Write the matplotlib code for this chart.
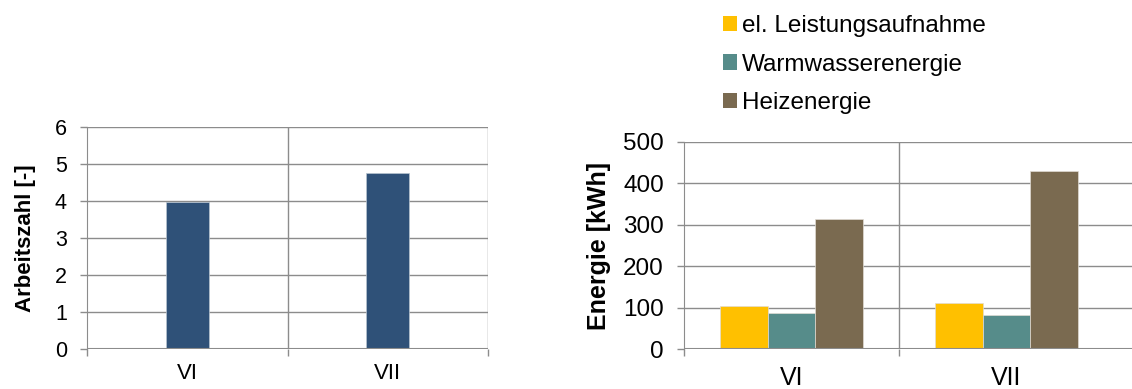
import numpy as np
import matplotlib
matplotlib.use('Agg')
import matplotlib.pyplot as plt
from matplotlib.patches import Patch

plt.rcParams['font.family'] = ['Liberation Sans', 'DejaVu Sans']

# data
categories = ['VI', 'VII']
arbeitszahl = [3.97, 4.77]
series_names = ['el. Leistungsaufnahme', 'Warmwasserenergie', 'Heizenergie']
el_leistung = [105, 112]
warmwasser = [88, 81]
heizenergie = [315, 430]
series_values = [el_leistung, warmwasser, heizenergie]
colors = ['#FFC000', '#568C8A', '#7A6A50']

grid_col = '#8C8C8C'

fig = plt.figure(figsize=(11.32, 3.89), dpi=100)

def style_axes(ax, ymax, ystep, xmax, bounds, fs_tick, fs_cat, fs_lab, ylabel, catpad):
    ax.set_ylim(0, ymax)
    ax.set_xlim(-0.5, xmax)
    ax.set_yticks(np.arange(0, ymax + ystep / 2, ystep))
    ax.yaxis.grid(True, color=grid_col, linewidth=1)
    ax.set_axisbelow(True)
    for s in ['top', 'right', 'bottom']:
        ax.spines[s].set_visible(False)
    ax.spines['left'].set_color(grid_col)
    # category boundaries as major ticks, labels as minor ticks
    ax.set_xticks(bounds)
    ax.set_xticklabels([])
    ax.set_xticks(np.arange(len(categories)), minor=True)
    ax.set_xticklabels(categories, minor=True, fontsize=fs_cat)
    ax.tick_params(axis='x', which='minor', length=0, pad=catpad)
    ax.tick_params(axis='x', which='major', length=5, color=grid_col, width=1)
    ax.tick_params(axis='y', length=5, color=grid_col, width=1, labelsize=fs_tick, pad=9.5)
    for b in bounds[1:]:
        ax.axvline(b, color=grid_col, linewidth=1, zorder=0)
    ax.axhline(0, color=grid_col, linewidth=1.5, zorder=3)
    ax.set_ylabel(ylabel, fontsize=fs_lab, fontweight='bold')

x = np.arange(len(categories))

# left chart
ax1 = fig.add_axes([87 / 1132, 40 / 389, 401 / 1132, 222 / 389])
ax1.bar(x, arbeitszahl, width=0.215, color='#2F5178', edgecolor='#B8C4D0', linewidth=0.5, zorder=2)
style_axes(ax1, 6, 1, 1.5, [-0.5, 0.5, 1.5], 15.5, 16, 16, 'Arbeitszahl [-]', 10)
ax1.yaxis.set_label_coords(-0.127, 0.5)

# right chart
ax2 = fig.add_axes([684 / 1132, 40 / 389, 448 / 1132, 207 / 389])
w = 0.222
for i, (vals, col) in enumerate(zip(series_values, colors)):
    ax2.bar(x + (i - 1) * w, vals, width=w, color=col, edgecolor='#E0DCD4', linewidth=0.5, zorder=2)
style_axes(ax2, 500, 100, -0.5 + 448 / 215, [-0.5, 0.5], 17.5, 18, 18, 'Energie [kWh]', 12)
ax2.yaxis.set_label_coords(-0.163, 0.5)

handles = [Patch(facecolor=c, edgecolor='none') for c in colors]
fig.legend(handles, series_names, loc='upper left', bbox_to_anchor=(723 / 1132, 1 - 15 / 389),
           frameon=False, fontsize=17.5, handlelength=0.58, handleheight=0.58,
           handletextpad=0.2, labelspacing=0.68, borderpad=0, borderaxespad=0)

fig.savefig('out.png', dpi=100)
